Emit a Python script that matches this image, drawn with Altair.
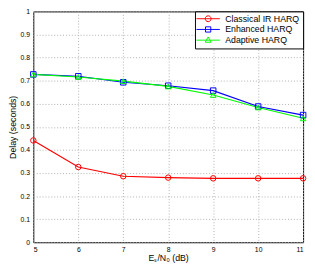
import altair as alt
import pandas as pd

snr = [5, 6, 7, 8, 9, 10, 11]
classical = [0.441, 0.326, 0.286, 0.280, 0.277, 0.277, 0.277]
enhanced = [0.727, 0.719, 0.693, 0.678, 0.657, 0.588, 0.551]
adaptive = [0.727, 0.716, 0.698, 0.675, 0.638, 0.584, 0.537]
series_names = ["Classical IR HARQ", "Enhanced HARQ", "Adaptive HARQ"]
colors = ["#ff0000", "#0000ff", "#00ff00"]
shapes = ["circle", "square", "triangle-up"]
legend_paths = [
    "M-4,0H4M1,0A1,1 0 1 1 -1,0A1,1 0 1 1 1,0Z",
    "M-4,0H4M-0.9,-0.9H0.9V0.9H-0.9Z",
    "M-4,0H4M0,-1.1L1,0.7H-1Z",
]
y_ticks = [0, 0.1, 0.2, 0.3, 0.4, 0.5, 0.6, 0.7, 0.8, 0.9, 1.0]

rows = []
for name, vals in zip(series_names, [classical, enhanced, adaptive]):
    for x, v in zip(snr, vals):
        rows.append({"snr": x, "delay": v, "series": name})
df = pd.DataFrame(rows)

FONT = "Liberation Sans"

leg = alt.Legend(
    title=None,
    orient="top-right",
    offset=0,
    strokeColor="black",
    fillColor="white",
    padding=3,
    cornerRadius=0,
    labelFont=FONT,
    labelFontSize=9,
    labelColor="black",
    labelOffset=13,
    symbolOffset=6,
    symbolSize=36,
    symbolStrokeWidth=1,
    symbolOpacity=1,
    rowPadding=0,
)

xenc = alt.X(
    "snr:Q",
    scale=alt.Scale(domain=[5, 11], nice=False),
    axis=alt.Axis(values=snr, title="Eₛ/N₀ (dB)", labelPadding=3, titlePadding=2),
)
yenc = alt.Y(
    "delay:Q",
    scale=alt.Scale(domain=[0, 1], nice=False),
    axis=alt.Axis(values=y_ticks, format=".1~f", title="Delay (seconds)",
                  labelPadding=4, titlePadding=3),
)
cscale = alt.Scale(domain=series_names, range=colors)

base = alt.Chart(df).encode(
    x=xenc,
    y=yenc,
    color=alt.Color("series:N", scale=cscale, legend=None),
)

lines = base.mark_line(strokeWidth=1.2)
points = base.mark_point(filled=False, size=32, strokeWidth=1, opacity=1).encode(
    shape=alt.Shape("series:N", scale=alt.Scale(domain=series_names, range=shapes), legend=None)
)
legend_layer = (
    alt.Chart(df)
    .transform_filter("false")
    .transform_calculate(lg="datum.series")
    .mark_point(filled=False, strokeWidth=1, opacity=1)
    .encode(
        x=xenc,
        y=yenc,
        color=alt.Color("lg:N", scale=cscale, legend=leg),
        shape=alt.Shape("lg:N", scale=alt.Scale(domain=series_names, range=legend_paths), legend=leg),
    )
)

chart = (
    alt.layer(lines, points, legend_layer)
    .resolve_scale(shape="independent")
    .resolve_legend(color="independent", shape="independent")
    .properties(
        width=277,
        height=237,
        padding={"left": 26, "top": 0, "right": 4, "bottom": 26},
        autosize=alt.AutoSizeParams(type="none"),
    )
    .configure_view(stroke="black", strokeWidth=1)
    .configure_axis(
        domain=False,
        ticks=False,
        grid=True,
        gridColor="#b0b0b0",
        gridDash=[1, 2],
        gridWidth=1,
        labelFont=FONT,
        labelFontSize=7,
        labelColor="black",
        titleFont=FONT,
        titleFontSize=9,
        titleFontWeight="normal",
        titleColor="black",
    )
)

chart.save("out.html", embed_options={"renderer": "svg", "actions": False})
